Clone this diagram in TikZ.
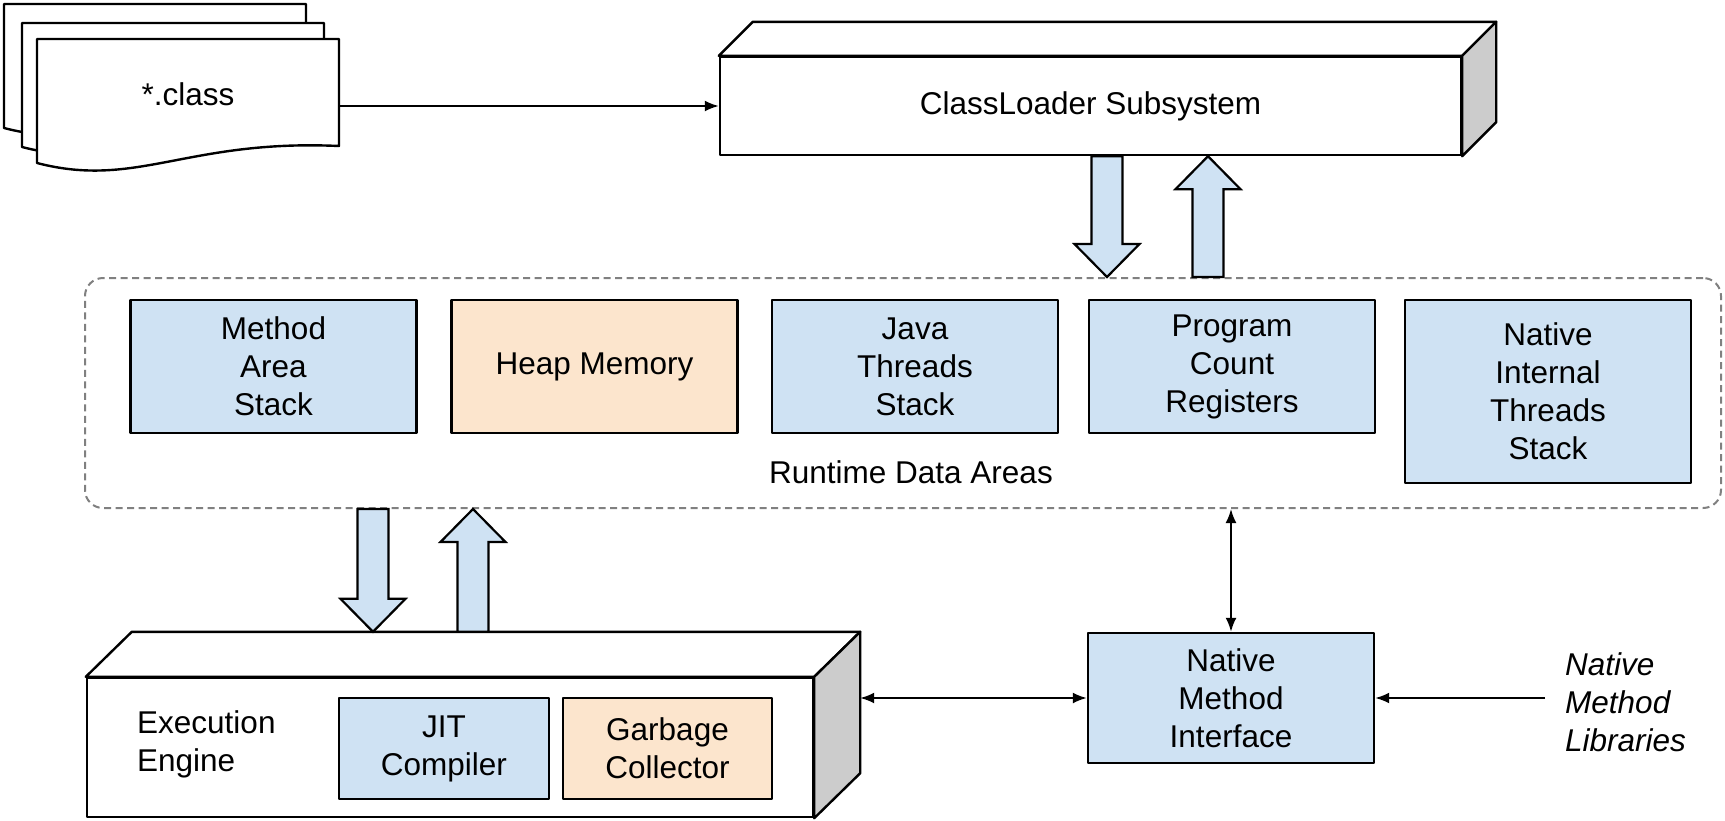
\documentclass[tikz,border=0pt]{standalone}
\usepackage{fontspec}
\setmainfont{Liberation Sans}
\usetikzlibrary{arrows.meta,calc}
\definecolor{lblue}{HTML}{CFE2F3}
\definecolor{lorange}{HTML}{FCE5CD}
\definecolor{sidegray}{HTML}{CCCCCC}
\definecolor{dashgray}{HTML}{808080}
\newcommand\blockdown[2]{\draw[blockarrow] ($(#1)+(-15.5,0)$) -- ($(#2)+(-15.5,-33)$) -- ($(#2)+(-32.5,-33)$) -- (#2) -- ($(#2)+(32.5,-33)$) -- ($(#2)+(15.5,-33)$) -- ($(#1)+(15.5,0)$) -- cycle;}
\newcommand\blockup[2]{\draw[blockarrow] ($(#1)+(-15.5,0)$) -- ($(#2)+(-15.5,33)$) -- ($(#2)+(-32.5,33)$) -- (#2) -- ($(#2)+(32.5,33)$) -- ($(#2)+(15.5,33)$) -- ($(#1)+(15.5,0)$) -- cycle;}
\tikzset{
  box/.style={draw, line width=2.4pt, minimum width=286pt, minimum height=133pt, align=center, inner sep=0pt},
  bluebox/.style={box, fill=lblue},
  orangebox/.style={box, fill=lorange},
  conn/.style={line width=2pt, -{Latex[length=14pt,width=11pt]}},
  biconn/.style={line width=2pt, {Latex[length=14pt,width=11pt]}-{Latex[length=14pt,width=11pt]}},
  blockarrow/.style={draw, line width=2.2pt, fill=lblue, line join=miter},
  cubeface/.style={draw, line width=2.4pt, fill=white, inner sep=0pt},
  cubeside/.style={draw, line width=2.4pt, fill=sidegray},
  docshape/.style={draw, line width=2.4pt, fill=white},
  groupbox/.style={draw=dashgray, line width=2pt, dash pattern=on 7pt off 4.5pt, rounded corners=18pt},
}
\begin{document}
\fontsize{31.5}{38}\selectfont
\begin{tikzpicture}[x=1pt, y=-1pt, line join=round]
\useasboundingbox (0,0) rectangle (1725,820);
\fill[white] (0,0) rectangle (1725,820);

% class files
\foreach \dx/\dy in {4/4, 22/23, 37/39}
  \draw[docshape, shift={(\dx,\dy)}] (0,0) -- (302,0) -- (302,107) .. controls (150,100) and (100,150) .. (0,124) -- cycle;
\node[minimum width=302pt, minimum height=124pt, inner sep=0pt, anchor=north west] (doc) at (37,39) {};
\node (cls) at (188,94.5) {*.class};

% classloader
\node[cubeface, minimum width=741pt, minimum height=98pt] (cl) at (1090.5,106) {ClassLoader Subsystem};
\draw[cubeface] (cl.north west) -- ++(34,-34) -- ($(cl.north east)+(34,-34)$) -- (cl.north east) -- cycle;
\draw[cubeside] (cl.north east) -- ++(34,-34) -- ($(cl.south east)+(34,-34)$) -- (cl.south east) -- cycle;
\draw[conn] (doc.east |- cl.west) -- (cl.west);

% runtime data areas
\node[groupbox, minimum width=1636pt, minimum height=230pt] (rda) at (903,393) {};
\node[anchor=base] (rdal) at (911,483) {Runtime Data Areas};
\node[bluebox] (mas) at (273.5,366.5) {Method\\Area\\Stack};
\node[orangebox] (heap) at (594.5,366.5) {Heap Memory};
\node[bluebox] (jts) at (915,366.5) {Java\\Threads\\Stack};
\node[bluebox] (pcr) at (1232,366.5) {Program\\Count\\Registers};
\node[bluebox, minimum height=183pt] (nits) at (1548,391.5) {Native\\Internal\\Threads\\Stack};

% execution engine
\node[cubeface, minimum width=726pt, minimum height=139pt] (ee) at (450,747.5) {};
\draw[cubeface] (ee.north west) -- ++(46,-45) -- ($(ee.north east)+(46,-45)$) -- (ee.north east) -- cycle;
\draw[cubeside] (ee.north east) -- ++(46,-45) -- ($(ee.south east)+(46,-45)$) -- (ee.south east) -- cycle;
\node[anchor=north west, align=left, inner sep=0pt] (eel) at (137,710.4) {Execution\\Engine};
\node[bluebox, minimum width=210pt, minimum height=101pt] (jit) at (444,748.5) {JIT\\Compiler};
\node[orangebox, minimum width=209pt, minimum height=101pt] (gc) at (667.5,748.5) {Garbage\\Collector};

% native method interface
\node[bluebox, minimum height=130pt] (nmi) at (1231,698) {Native\\Method\\Interface};
\node[anchor=north west, align=left, inner xsep=20pt, inner ysep=0pt, font=\itshape] (lib) at (1545,652.4) {Native\\Method\\Libraries};

% block arrows
\coordinate (xa) at (1107,0);
\coordinate (xb) at (1208,0);
\coordinate (xc) at (373,0);
\coordinate (xd) at (473,0);
\coordinate (eetop) at ($(ee.north west)+(46,-45)$);
\coordinate (a1t) at (xa |- cl.south);
\coordinate (a1h) at (xa |- rda.north);
\coordinate (a2t) at (xb |- rda.north);
\coordinate (a2h) at (xb |- cl.south);
\coordinate (a3t) at (xc |- rda.south);
\coordinate (a3h) at (xc |- eetop);
\coordinate (a4t) at (xd |- eetop);
\coordinate (a4h) at (xd |- rda.south);
\blockdown{a1t}{a1h}
\blockup{a2t}{a2h}
\blockdown{a3t}{a3h}
\blockup{a4t}{a4h}

% line connectors
\coordinate (eeback) at ($(ee.east)+(46,0)$);
\draw[biconn] (nmi.north |- rda.south) -- (nmi.north);
\draw[biconn] (eeback |- nmi.west) -- (nmi.west);
\draw[conn] (lib.west |- nmi.east) -- (nmi.east);
\end{tikzpicture}
\end{document}
